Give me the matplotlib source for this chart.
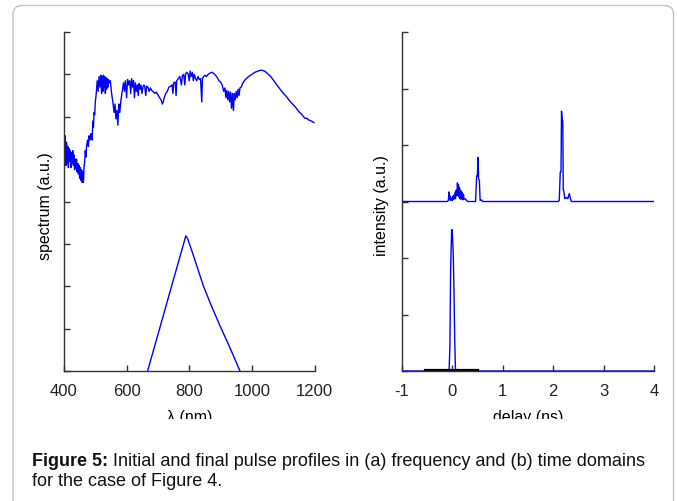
import matplotlib
matplotlib.use("Agg")
import matplotlib.pyplot as plt
from matplotlib.patches import FancyBboxPatch, Rectangle
from matplotlib.transforms import IdentityTransform

plt.rcParams['axes.unicode_minus'] = False
plt.rcParams['font.family'] = ['Liberation Sans', 'DejaVu Sans']

# ---------------- data ----------------
# (a) final spectrum (upper curve)
wl_final = [400, 402, 404, 406, 408, 410, 412, 414, 416, 418, 420, 422, 424, 426, 428, 430,
            432, 434, 436, 438, 440, 442, 444, 446, 448, 450, 452, 454, 456, 458, 460, 462,
            464, 466, 468, 470, 472, 475, 478, 480, 483, 486, 488, 490, 492, 494, 496, 498,
            500, 503, 506, 509, 512, 515, 518, 520, 522, 524, 526, 528, 530, 532, 534, 536,
            538, 540, 542, 545, 548, 552, 556, 560, 563, 566, 569, 572, 575, 578, 582, 586,
            590, 593, 596, 600, 603, 606, 610, 613, 616, 619, 622, 625, 628, 631, 634, 637,
            640, 643, 646, 649, 652, 655, 658, 661, 664, 668, 672, 676, 680, 684, 690, 695,
            700, 705, 710, 714, 717, 720, 725, 730, 735, 740, 745, 748, 750, 755, 758, 760,
            765, 770, 775, 778, 782, 786, 788, 792, 796, 800, 803, 806, 810, 813, 816, 820,
            824, 828, 832, 836, 840, 842, 846, 850, 855, 860, 866, 872, 878, 884, 890, 895,
            900, 905, 910, 914, 917, 920, 923, 926, 929, 932, 935, 938, 941, 944, 947, 950,
            953, 956, 959, 962, 966, 970, 976, 982, 990, 1000, 1010, 1020, 1030, 1040, 1050,
            1060, 1070, 1080, 1090, 1100, 1110, 1120, 1130, 1140, 1150, 1160, 1165, 1170,
            1175, 1180, 1190, 1198]
spec_final = [5.45, 4.95, 5.55, 4.85, 5.4, 4.9, 5.3, 4.8, 5.25, 4.95, 5.2, 4.8, 5.15, 4.9, 5.2, 4.85,
              5.1, 4.75, 5.0, 4.8, 5.0, 4.7, 4.9, 4.65, 4.85, 4.55, 4.8, 4.5, 4.75, 4.45, 4.7, 4.45,
              4.8, 4.95, 5.2, 5.05, 5.3, 5.45, 5.3, 5.55, 5.45, 5.6, 5.55, 5.45, 5.9, 5.75, 6.1, 6.05,
              6.35, 6.55, 6.85, 6.6, 6.95, 6.7, 6.98, 6.55, 6.95, 6.6, 6.98, 6.7, 6.95, 6.55, 6.92, 6.65,
              6.9, 6.7, 6.88, 6.8, 6.85, 6.55, 6.35, 6.1, 6.3, 5.95, 6.15, 5.8, 6.3, 6.1, 6.4, 6.6,
              6.8, 6.6, 6.85, 6.45, 6.88, 6.75, 6.85, 6.55, 6.9, 6.7, 6.85, 6.45, 6.8, 6.6, 6.75, 6.5,
              6.78, 6.65, 6.75, 6.55, 6.7, 6.75, 6.72, 6.5, 6.72, 6.7, 6.6, 6.68, 6.62, 6.6, 6.55, 6.58,
              6.52, 6.45, 6.4, 6.3, 6.35, 6.45, 6.55, 6.6, 6.7, 6.72, 6.75, 6.55, 6.8, 6.82, 6.5, 6.85,
              6.9, 6.95, 6.75, 6.97, 7.0, 6.75, 7.0, 7.05, 7.02, 6.85, 7.08, 6.95, 7.05, 6.85, 7.0, 6.9,
              6.85, 6.95, 6.88, 6.9, 6.35, 6.9, 6.95, 6.98, 6.95, 7.0, 7.03, 7.05, 7.02, 6.98, 6.92, 6.85,
              6.82, 6.75, 6.6, 6.68, 6.45, 6.62, 6.4, 6.6, 6.35, 6.58, 6.2, 6.55, 6.15, 6.55, 6.4, 6.6,
              6.45, 6.65, 6.5, 6.68, 6.7, 6.78, 6.85, 6.9, 6.95, 7.0, 7.05, 7.08, 7.1, 7.08, 7.02,
              6.95, 6.85, 6.75, 6.65, 6.56, 6.48, 6.38, 6.3, 6.22, 6.12, 6.05, 6.0, 5.96,
              5.97, 5.93, 5.9, 5.86]

# (a) initial spectrum (lower curve)
wl_init = [660, 667, 700, 750, 780, 789, 795, 810, 845, 870, 898, 930, 962, 970]
spec_init = [-0.2, 0.0, 0.86, 2.17, 2.95, 3.19, 3.12, 2.8, 2.01, 1.55, 1.07, 0.55, 0.0, -0.15]

# (b) final intensity (upper curve, offset baseline 3)
t_final = [-1.0, -0.1, -0.08, -0.065, -0.055, -0.045, -0.03, -0.015, 0.0, 0.015, 0.03, 0.045,
           0.06, 0.075, 0.09, 0.1, 0.11, 0.12, 0.13, 0.14, 0.15, 0.16, 0.17, 0.18, 0.19, 0.2,
           0.21, 0.22, 0.23, 0.25, 0.28, 0.3, 0.46, 0.48, 0.495, 0.51, 0.52, 0.535, 0.55, 0.57,
           0.6, 0.62, 2.1, 2.12, 2.14, 2.155, 2.165, 2.18, 2.19, 2.2, 2.21, 2.23, 2.26, 2.29,
           2.32, 2.34, 2.36, 4.0]
int_final = [3.0, 3.0, 3.02, 3.17, 3.03, 3.1, 3.02, 3.06, 3.02, 3.1, 3.04, 3.15,
             3.05, 3.2, 3.1, 3.33, 3.15, 3.3, 3.08, 3.25, 3.05, 3.2, 3.04, 3.18, 3.06, 3.15,
             3.03, 3.12, 3.04, 3.05, 3.02, 3.0, 3.0, 3.45, 3.45, 3.78, 3.4, 3.37, 3.02, 3.03,
             3.0, 3.0, 3.0, 3.02, 3.52, 3.52, 4.6, 4.43, 4.43, 3.2, 3.19, 3.05, 3.07, 3.05,
             3.14, 3.06, 3.0, 3.0]

# (b) initial intensity (lower curve)
t_init = [-1.0, -0.08, -0.065, -0.05, -0.035, -0.015, -0.005, 0.015, 0.03, 0.045, 0.06, 0.075, 4.0]
int_init = [0.0, 0.0, 0.02, 0.42, 1.81, 2.5, 2.5, 2.13, 1.5, 0.6, 0.05, 0.0, 0.0]

# (b) dark baseline segment
t_dark = [-0.54, 0.5]
int_dark = [0.015, 0.015]

xticks_a = [400, 600, 800, 1000, 1200]
xticks_b = [-1, 0, 1, 2, 3, 4]

caption_bold = "Figure 5:"
caption_line1 = " Initial and final pulse profiles in (a) frequency and (b) time domains"
caption_line2 = "for the case of Figure 4."

# ---------------- figure ----------------
W, H = 677, 502
fig = plt.figure(figsize=(W / 100, H / 100), dpi=100)

def px_axes(x0, x1, ytop, ybot):
    return [x0 / W, (H - ybot) / H, (x1 - x0) / W, (ybot - ytop) / H]

blue = '#0000ff'
spine_c = '#333333'
fs_tick = 12
fs_lab = 11.5

def style(ax):
    for s in ['top', 'right']:
        ax.spines[s].set_visible(False)
    for s in ['left', 'bottom']:
        ax.spines[s].set_color(spine_c)
        ax.spines[s].set_linewidth(1.0)
    ax.tick_params(direction='in', length=4, width=1, color=spine_c,
                   labelsize=fs_tick, labelcolor='#222222', pad=9)
    ax.set_yticklabels([])

label_y = -(422 - 372) / 339.0

ax1 = fig.add_axes(px_axes(64, 314.5, 33, 372))
ax1.plot(wl_final, spec_final, color=blue, lw=1.0, clip_on=True)
ax1.plot(wl_init, spec_init, color=blue, lw=1.0)
ax1.set_xlim(400, 1200)
ax1.set_ylim(0, 8)
ax1.set_xticks(xticks_a)
ax1.set_yticks(range(0, 9))
style(ax1)
ax1.set_xlabel('λ (nm)', fontsize=fs_lab)
ax1.set_ylabel('spectrum (a.u.)', fontsize=fs_lab)
ax1.xaxis.set_label_coords(0.5, label_y)
ax1.xaxis.label.set_va('baseline')
ax1.yaxis.set_label_coords(-(64 - 53) / 250.5, 0.49)

ax2 = fig.add_axes(px_axes(402, 654, 33, 372))
ax2.plot(t_final, int_final, color=blue, lw=1.0)
ax2.plot(t_init, int_init, color=blue, lw=1.0)
ax2.plot(t_dark, int_dark, color='black', lw=1.6)
ax2.set_xlim(-1, 4)
ax2.set_ylim(0, 6)
ax2.set_xticks(xticks_b)
ax2.set_yticks(range(0, 7))
style(ax2)
ax2.set_xlabel('delay (ns)', fontsize=fs_lab)
ax2.set_ylabel('intensity (a.u.)', fontsize=fs_lab)
ax2.xaxis.set_label_coords(0.5, label_y)
ax2.xaxis.label.set_va('baseline')
ax2.yaxis.set_label_coords(-(402 - 389) / 252.0, 0.49)

# frame around figure panel
frame = FancyBboxPatch((13, -40), 660.5, H - 6.5 + 40,
                       boxstyle="round,pad=0,rounding_size=9",
                       transform=IdentityTransform(), facecolor='none',
                       edgecolor='#c4c4c4', linewidth=1.0)
fig.patches.append(frame)

# crop the axis labels as in the reference
cover = Rectangle((14, H - 440), 658, 20, transform=IdentityTransform(),
                  facecolor='white', edgecolor='none', zorder=20)
fig.patches.append(cover)

# caption
fs_cap = 13.0
cap_family = ['Liberation Sans']
t_b = fig.text(32 / W, (H - 466.5) / H, caption_bold, fontsize=fs_cap, fontweight='bold',
               family=cap_family, va='baseline', ha='left', color='#111111', zorder=30)
fig.canvas.draw()
bb = t_b.get_window_extent()
fig.text(bb.x1 / W, (H - 466.5) / H, caption_line1, fontsize=fs_cap, family=cap_family,
         va='baseline', ha='left', color='#111111', zorder=30)
fig.text(32 / W, (H - 486.5) / H, caption_line2, fontsize=fs_cap, family=cap_family,
         va='baseline', ha='left', color='#111111', zorder=30)

fig.savefig('out.png', dpi=100)
